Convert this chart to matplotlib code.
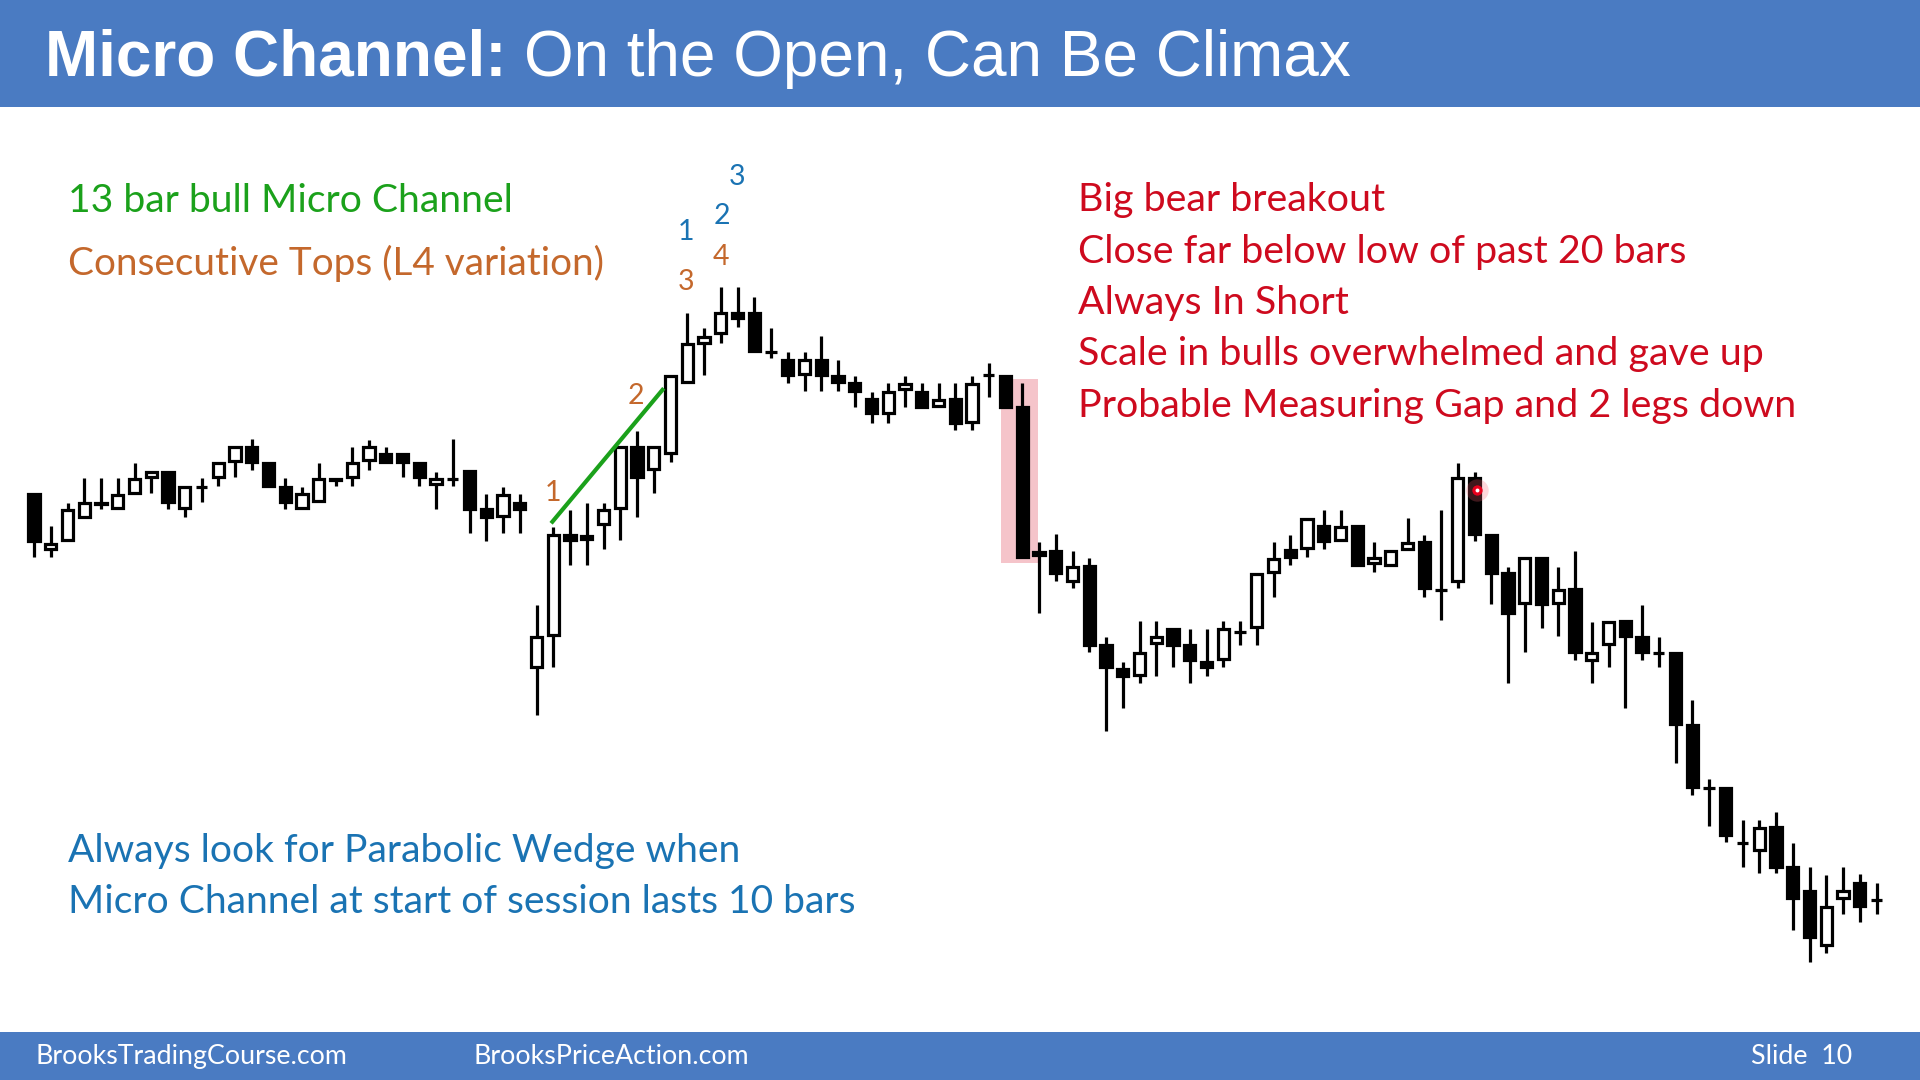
import matplotlib
matplotlib.use("Agg")
import matplotlib.pyplot as plt
from matplotlib.patches import Rectangle
import numpy as np

# OHLC of the 5 min bars (arbitrary price units)
opens = [506, 451, 460, 483, 497, 492, 507, 523, 528, 492, 513, 523, 539, 553, 537, 513, 492, 499, 521, 523,
         540, 546, 546, 537, 516, 521, 529, 491, 484, 497, 333, 365, 465, 461, 476, 492, 553, 531, 547, 618,
         657, 667, 687, 687, 648, 640, 626, 640, 624, 617, 601, 587, 611, 608, 594, 601, 578, 625, 624, 593,
         445, 449, 419, 434, 355, 331, 325, 357, 371, 355, 338, 341, 368, 373, 428, 450, 452, 474, 460, 474,
         437, 435, 451, 458, 410, 419, 522, 465, 427, 397, 442, 397, 411, 340, 356, 379, 363, 347, 347, 275,
         212, 212, 157, 150, 173, 133, 109, 55, 102, 117, 100]
highs = [506, 474, 497, 522, 522, 522, 537, 528, 528, 513, 522, 537, 553, 561, 537, 522, 513, 537, 521, 553,
         560, 553, 546, 537, 528, 561, 529, 506, 513, 506, 395, 473, 490, 497, 497, 553, 569, 553, 624, 687,
         672, 713, 713, 703, 672, 648, 648, 664, 640, 624, 608, 617, 624, 617, 617, 617, 624, 637, 624, 617,
         458, 466, 449, 442, 363, 338, 379, 379, 371, 371, 371, 379, 379, 426, 458, 465, 481, 490, 490, 474,
         458, 449, 482, 465, 490, 537, 528, 465, 433, 442, 442, 433, 449, 378, 378, 379, 395, 363, 347, 300,
         221, 212, 180, 180, 188, 157, 133, 125, 133, 126, 117]
lows = [443, 443, 460, 483, 491, 492, 507, 507, 491, 483, 498, 514, 523, 530, 514, 491, 492, 499, 514, 514,
        530, 538, 523, 514, 491, 514, 467, 459, 467, 467, 285, 333, 435, 435, 451, 460, 483, 507, 538, 618,
        625, 657, 673, 649, 642, 617, 609, 609, 609, 593, 577, 577, 593, 593, 594, 570, 570, 603, 593, 443,
        387, 419, 412, 348, 269, 292, 317, 324, 333, 317, 324, 333, 355, 355, 403, 435, 443, 451, 460, 435,
        428, 435, 451, 403, 380, 412, 459, 396, 317, 348, 372, 364, 340, 317, 333, 292, 340, 333, 237, 205,
        174, 158, 133, 127, 127, 70, 38, 47, 86, 78, 86]
closes = [459, 456, 490, 497, 496, 505, 521, 528, 498, 513, 513, 537, 553, 538, 514, 498, 506, 521, 520, 537,
          553, 538, 538, 523, 521, 521, 491, 483, 505, 491, 363, 465, 460, 464, 490, 553, 523, 553, 624, 656,
          663, 687, 682, 649, 648, 625, 640, 625, 618, 609, 587, 608, 616, 593, 600, 577, 616, 625, 593, 443,
          448, 427, 433, 355, 333, 324, 347, 363, 355, 340, 333, 371, 368, 426, 441, 443, 481, 459, 473, 435,
          442, 449, 457, 412, 410, 522, 466, 427, 387, 442, 396, 410, 348, 347, 378, 364, 348, 347, 276, 213,
          212, 165, 157, 172, 133, 102, 63, 93, 109, 94, 100]

red_lines = ["Big bear breakout",
             "Close far below low of past 20 bars",
             "Always In Short",
             "Scale in bulls overwhelmed and gave up",
             "Probable Measuring Gap and 2 legs down"]
blue_lines = ["Always look for Parabolic Wedge when",
              "Micro Channel at start of session lasts 10 bars"]

BLUE_BAR = "#4A7BC2"
GREEN = "#1BA11B"
ORANGE = "#C4682C"
RED = "#CE0A1E"
BLUE = "#1A73B3"
FONT = ["Lato", "DejaVu Sans"]

W, H = 1920, 1080
SPACE = 16.75      # pixels between bars
X0 = 34            # pixel x of first bar


def px(x, y):
    return x / W, 1 - y / H


fig = plt.figure(figsize=(19.2, 10.8), dpi=100, facecolor="white")
ax = fig.add_axes([0, 0, 1, 1])
ax.set_xlim(-X0 / SPACE, (W - X0) / SPACE)
ax.set_ylim(-80, 1000)
ax.axis("off")

o = np.array(opens)
c = np.array(closes)
x = np.arange(len(o))

# big bear breakout highlight
ax.add_patch(Rectangle((57.73, 437), 2.21, 184, color="#F5C4CA", zorder=1, lw=0))

ax.vlines(x, lows, highs, color="black", lw=2.3, zorder=2)
ax.bar(x, c - o, bottom=o, width=0.68,
       color=np.where(c >= o, "white", "black"),
       edgecolor="black", linewidth=2.3, zorder=3)

# micro channel trend line
ax.plot([30.87, 37.6], [476.7, 611.7], color=GREEN, lw=3, zorder=4, solid_capstyle="butt")

# bar counts
for s, xi, yi, col in [("1", 31.0, 506.7, ORANGE), ("2", 35.94, 603.9, ORANGE),
                       ("3", 38.93, 717.7, ORANGE), ("4", 41.0, 742.7, ORANGE),
                       ("1", 38.91, 768.3, BLUE), ("2", 41.09, 784.3, BLUE),
                       ("3", 41.99, 823.3, BLUE)]:
    ax.text(xi, yi, s, color=col, fontsize=20.5, family=FONT, ha="center", va="center")

# cursor dot
ax.scatter([86.14], [510], s=260, color="#FF6070", alpha=0.25, lw=0, zorder=5)
ax.scatter([86.14], [510], s=55, color="#E8001C", lw=0, zorder=6)
ax.scatter([86.14], [510], s=8, color="white", lw=0, zorder=7)

# header and footer bands
fig.add_artist(Rectangle((0, 1 - 107 / H), 1, 107 / H, transform=fig.transFigure,
                         color=BLUE_BAR, lw=0, zorder=0))
fig.add_artist(Rectangle((0, 0), 1, 48 / H, transform=fig.transFigure,
                         color=BLUE_BAR, lw=0, zorder=0))

t1 = fig.text(*px(45, 76), "Micro Channel:", color="white", fontsize=46, fontweight="bold",
              family=["Liberation Sans", "DejaVu Sans"], va="baseline")
fig.canvas.draw()
bb = t1.get_window_extent()
fig.text(bb.x1 / W + 18 / W, 1 - 76 / H, "On the Open, Can Be Climax", color="white", fontsize=46,
         family=["Liberation Sans", "DejaVu Sans"], va="baseline")

fig.text(*px(68, 212), "13 bar bull Micro Channel", color=GREEN, fontsize=28.2, family=FONT, va="baseline")
fig.text(*px(68, 275), "Consecutive Tops (L4 variation)", color=ORANGE, fontsize=27.9, family=FONT, va="baseline")

for k, s in enumerate(red_lines):
    fig.text(*px(1078, 211 + 51.5 * k), s, color=RED, fontsize=28.4, family=FONT, va="baseline")

for k, s in enumerate(blue_lines):
    fig.text(*px(68, 862 + 51 * k), s, color=BLUE, fontsize=28.1, family=FONT, va="baseline")

fig.text(*px(35, 1064), "BrooksTradingCourse.com", color="white", fontsize=19.3, family=FONT, va="baseline")
fig.text(*px(474, 1064), "BrooksPriceAction.com", color="white", fontsize=19.3, family=FONT, va="baseline")
fig.text(*px(1751, 1064), "Slide  10", color="white", fontsize=19.3, family=FONT, va="baseline")

fig.savefig("out.png", dpi=100, facecolor="white")
